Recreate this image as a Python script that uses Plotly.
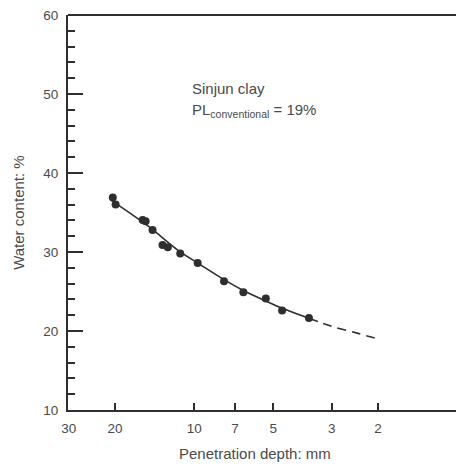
import math
import plotly.graph_objects as go

# Measured points (penetration depth mm, water content %)
pts_x = [20.4, 19.9, 15.7, 15.3, 14.4, 13.2, 12.6, 11.3, 9.7, 7.7, 6.5, 5.34, 4.63, 3.66]
pts_y = [36.9, 36.0, 34.05, 33.9, 32.8, 30.9, 30.6, 29.8, 28.6, 26.3, 24.9, 24.1, 22.6, 21.65]

# Fitted curve (solid part and dashed extrapolation)
curve_x = [20.8, 15.0, 11.4, 9.7, 7.7, 6.56, 5.34, 4.65, 3.66]
curve_y = [36.6, 33.3, 30.1, 28.6, 26.5, 25.2, 23.8, 22.9, 21.6]
ext_x = [3.66, 3.0, 2.38, 2.0]
ext_y = [21.6, 20.6, 19.7, 19.0]

x_ticks = [30, 20, 10, 7, 5, 3, 2]
x_ticktext = ["30", "20", "10", "7", "5", "3", "2"]
long_x_tick = 10

INK = "#2e2e2e"
TXT = "#4a4a4a"
FONT = "Liberation Sans, Arial, sans-serif"

fig = go.Figure()
fig.add_trace(go.Scatter(x=curve_x, y=curve_y, mode="lines", line=dict(color=INK, width=1.6, shape="spline"),
                         showlegend=False, hoverinfo="skip"))
fig.add_trace(go.Scatter(x=ext_x, y=ext_y, mode="lines", line=dict(color=INK, width=1.6, dash="9px,6px", shape="spline"),
                         showlegend=False, hoverinfo="skip"))
fig.add_trace(go.Scatter(x=pts_x, y=pts_y, mode="markers", marker=dict(color=INK, size=8),
                         showlegend=False))

xr = [1.4800, 0.004]
fig.update_layout(
    width=456, height=464,
    margin=dict(l=68, r=0, t=15, b=54),
    paper_bgcolor="white", plot_bgcolor="white",
    font=dict(family=FONT, size=13, color=TXT),
    xaxis=dict(type="log", range=xr, tickvals=x_ticks, ticktext=x_ticktext,
               ticks="inside", ticklen=7, tickwidth=1.5, tickcolor=INK,
               showline=True, linewidth=2, linecolor=INK, showgrid=False, zeroline=False,
               ticklabelstandoff=5, tickfont=dict(size=13.5, color=TXT)),
    yaxis=dict(range=[10, 60], dtick=10, tick0=0, ticks="inside", ticklen=15, tickwidth=1.5, tickcolor=INK,
               minor=dict(dtick=2, ticks="inside", ticklen=7, tickwidth=1.5, tickcolor=INK, showgrid=False),
               showline=True, linewidth=2, linecolor=INK, showgrid=False, zeroline=False,
               ticklabelstandoff=5, tickfont=dict(size=13.5, color=TXT)),
    shapes=[
        dict(type="line", xref="paper", yref="paper", x0=0, x1=1, y0=1, y1=1,
             line=dict(color=INK, width=2)),
        dict(type="line", xref="x", yref="paper", x0=math.log10(long_x_tick), x1=math.log10(long_x_tick),
             y0=0, y1=0.038, line=dict(color=INK, width=1.5)),
    ],
    annotations=[
        dict(text="Sinjun clay", xref="paper", yref="paper", x=0.314, y=0.813,
             xanchor="left", yanchor="middle", showarrow=False, font=dict(size=15, color=TXT)),
        dict(text="PL<sub>conventional</sub> = 19%", xref="paper", yref="paper", x=0.314, y=0.757,
             xanchor="left", yanchor="middle", showarrow=False, font=dict(size=15, color=TXT)),
        dict(text="Water content: %", xref="paper", yref="paper", x=-0.128, y=0.5, textangle=-90,
             xanchor="center", yanchor="middle", showarrow=False, font=dict(size=15, color=TXT)),
        dict(text="Penetration depth: mm", xref="paper", yref="paper", x=0.482, y=-0.109,
             xanchor="center", yanchor="middle", showarrow=False, font=dict(size=15, color=TXT)),
    ],
)

fig.write_html("out.html")
